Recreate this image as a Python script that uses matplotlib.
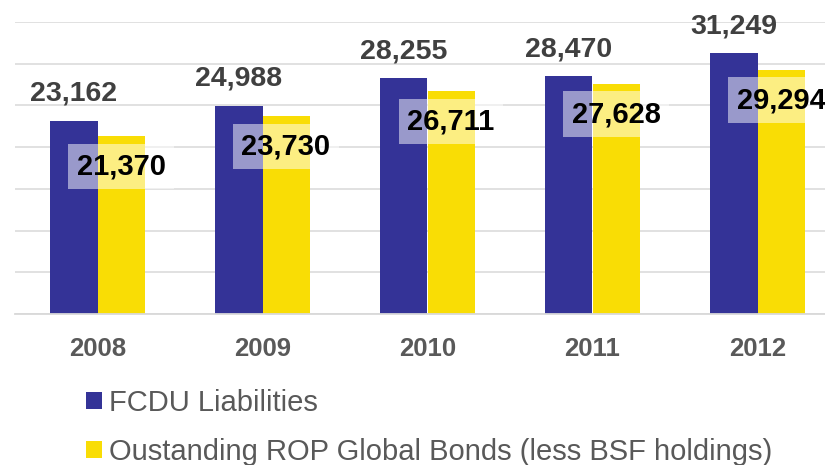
import matplotlib
import matplotlib.pyplot as plt
import numpy as np

matplotlib.use("Agg")

years = ["2008", "2009", "2010", "2011", "2012"]
fcdu = [23162, 24988, 28255, 28470, 31249]
rop_bonds = [21370, 23730, 26711, 27628, 29294]
series_names = ["FCDU Liabilities", "Oustanding ROP Global Bonds (less BSF holdings)"]

BLUE = "#343397"
YELLOW = "#f9dd05"
GRID = "#d9d9d9"
TEXT_GRAY = "#595959"

plt.rcParams["font.family"] = ["Liberation Sans", "DejaVu Sans"]

fig = plt.figure(figsize=(8.25, 4.65), dpi=100)
# plot area runs a little past the right edge of the canvas
ax = fig.add_axes([15 / 825, 1 - 314 / 465, 825 / 825, 292 / 465])

x = np.arange(len(years))
w = 0.285
b1 = ax.bar(x - w / 2, fcdu, w, color=BLUE, label=series_names[0], zorder=2)
b2 = ax.bar(x + w / 2, rop_bonds, w, color=YELLOW, label=series_names[1], zorder=2)

ax.set_ylim(0, 35000)
ax.set_xlim(-0.5, 4.5)
ax.set_yticks(np.arange(0, 35001, 5000))
ax.yaxis.grid(True, color=GRID, lw=1.1, zorder=0)
ax.tick_params(axis="y", left=False, labelleft=False)
ax.tick_params(axis="x", bottom=False, pad=13)
for s in ["top", "right", "left"]:
    ax.spines[s].set_visible(False)
ax.spines["bottom"].set_color(GRID)
ax.spines["bottom"].set_linewidth(1.3)
ax.set_xticks(x)
ax.set_xticklabels(years, fontsize=18.5, fontweight="bold", color=TEXT_GRAY)

for xi, v in zip(x, fcdu):
    ax.annotate(f"{v:,}", xy=(xi - w / 2, v), xytext=(0, 10), textcoords="offset points",
                ha="center", va="bottom", fontsize=20.5, fontweight="bold",
                color="#404040", zorder=4)

for xi, v in zip(x, rop_bonds):
    ax.annotate(f"{v:,}", xy=(xi + w / 2, v), xytext=(0, -22), textcoords="offset points",
                ha="center", va="center", fontsize=21, fontweight="bold",
                color="black", zorder=4,
                bbox=dict(boxstyle="square,pad=0.3", fc="white", ec="none", alpha=0.5))

fig.legend(handles=[b1, b2], loc="upper left", bbox_to_anchor=(86 / 825, 1 - 389 / 465),
           frameon=False, fontsize=21, labelcolor=TEXT_GRAY, handlelength=0.55,
           handleheight=0.55, handletextpad=0.25, labelspacing=0.72, borderaxespad=0,
           borderpad=0)

fig.savefig("out.png", dpi=100)
plt.close(fig)
